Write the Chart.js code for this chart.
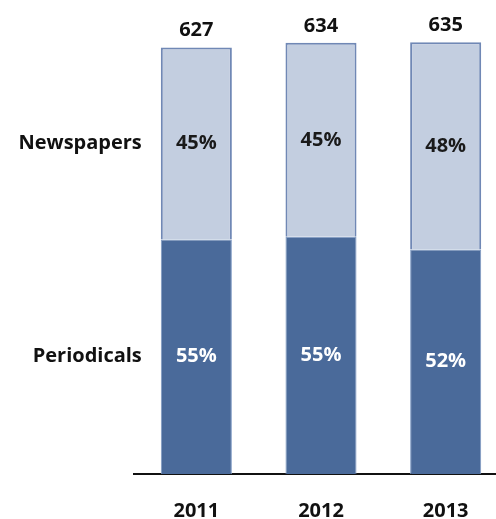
<!DOCTYPE html>
<html>
<head>
<meta charset="utf-8">
<script src="https://cdn.jsdelivr.net/npm/chart.js@4"></script>
<style>
  html, body { margin: 0; padding: 0; background: #fff; overflow: hidden; }
  #wrap { width: 512px; height: 519px; }
</style>
</head>
<body>
<div id="wrap"><canvas id="mixChart" width="512" height="519"></canvas></div>
<script>
const years = ["2011", "2012", "2013"];
const totals = [627, 634, 635];
const periodicalsShare = [55, 55, 52];
const newspapersShare = [45, 45, 48];
const seriesNames = ["Periodicals", "Newspapers"];

const FONT = "'Open Sans', 'DejaVu Sans', sans-serif";

// segment heights are the share of each year's total
const periodicals = totals.map((t, i) => (t * periodicalsShare[i]) / 100);
const newspapers = totals.map((t, i) => (t * newspapersShare[i]) / 100);
const shares = [periodicalsShare, newspapersShare];

const labelPlugin = {
  id: "barLabels",
  afterDatasetsDraw(chart) {
    const ctx = chart.ctx;
    ctx.save();
    ctx.font = "bold 20px " + FONT;
    ctx.textBaseline = "middle";

    chart.data.datasets.forEach((ds, d) => {
      const meta = chart.getDatasetMeta(d);
      meta.data.forEach((bar, i) => {
        const p = bar.getProps(["x", "y", "base", "width"], true);
        ctx.textAlign = "center";
        ctx.fillStyle = d === 0 ? "#ffffff" : "#1a1a1a";
        ctx.fillText(shares[d][i] + "%", p.x, (p.y + p.base) / 2);

        // series name beside the first column
        if (i === 0) {
          ctx.textAlign = "right";
          ctx.fillStyle = "#111111";
          ctx.fillText(seriesNames[d], p.x - p.width / 2 - 19, (p.y + p.base) / 2);
        }
      });
    });

    // totals above each column
    const top = chart.getDatasetMeta(1);
    top.data.forEach((bar, i) => {
      ctx.textAlign = "center";
      ctx.fillStyle = "#111111";
      ctx.fillText(String(totals[i]), bar.x, bar.y - 17);
    });
    ctx.restore();
  }
};

new Chart(document.getElementById("mixChart").getContext("2d"), {
  type: "bar",
  data: {
    labels: years,
    datasets: [
      {
        label: seriesNames[0],
        data: periodicals,
        backgroundColor: "#4a6a9a",
        borderColor: "#7f9ac3",
        borderWidth: 1,
        barPercentage: 0.57,
        categoryPercentage: 1
      },
      {
        label: seriesNames[1],
        data: newspapers,
        backgroundColor: "#c3cee0",
        borderColor: "#7088b5",
        borderWidth: 2,
        barPercentage: 0.57,
        categoryPercentage: 1
      }
    ]
  },
  options: {
    responsive: false,
    animation: false,
    layout: { padding: { left: 134, right: 4, top: 0, bottom: -29 } },
    plugins: {
      legend: { display: false },
      tooltip: { enabled: false }
    },
    scales: {
      x: {
        stacked: true,
        grid: { display: false, drawTicks: false },
        border: { display: true, color: "#111111", width: 2 },
        ticks: {
          color: "#111111",
          padding: 25,
          font: { family: FONT, size: 20, weight: "bold" }
        }
      },
      y: {
        stacked: true,
        display: false,
        min: 0,
        max: 697
      }
    }
  },
  plugins: [labelPlugin]
});
</script>
</body>
</html>
